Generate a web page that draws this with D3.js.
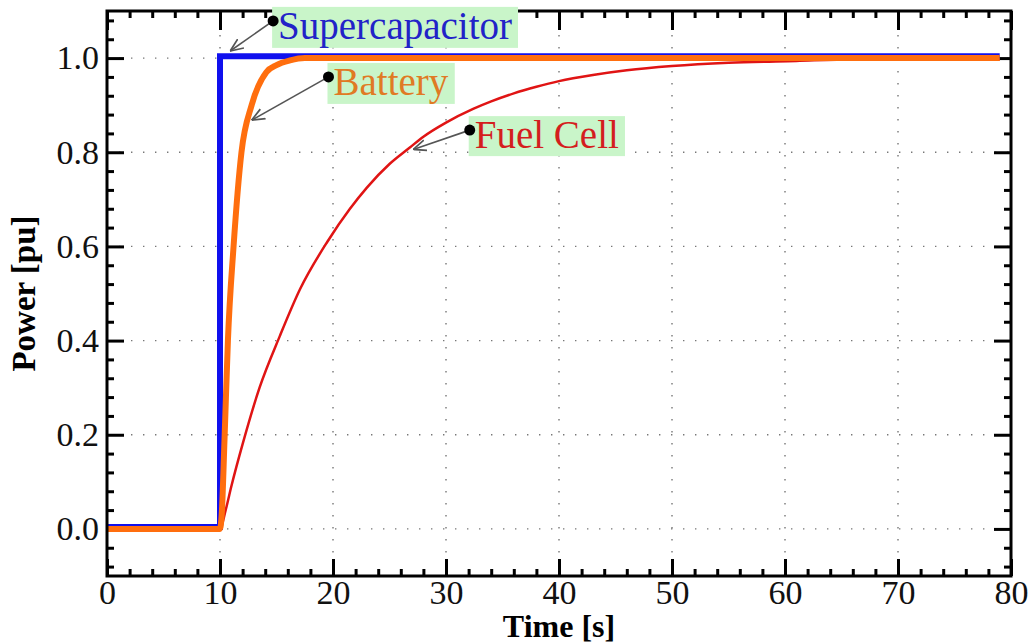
<!DOCTYPE html>
<html>
<head>
<meta charset="utf-8">
<script src="https://cdn.jsdelivr.net/npm/d3@7"></script>
<style>
  body { margin: 0; background: #fff; }
  svg { display: block; font-family: "Liberation Serif", "DejaVu Serif", serif; }
  .grid line { stroke: #777; stroke-width: 1.4; stroke-dasharray: 1.4 10.6; }
  .axis path { display: none; }
  .axis line { stroke: #000; stroke-width: 3; }
  .axis text { font-size: 34px; fill: #111; font-family: "Liberation Serif", serif; }
</style>
</head>
<body>
<svg id="chart" width="1031" height="643"></svg>
<script>
// time axis [s] and per-unit power for each source
const timeSC = [0, 10, 10, 79];
const powerSC = [0.004, 0.004, 1.004, 1.004];

const timeBat = [0, 10, 10.15, 10.4, 10.7, 11.2, 11.9, 12.8, 14.1, 15, 16.2, 17.5, 79];
const powerBat = [0, 0, 0.03, 0.19, 0.40, 0.60, 0.80, 0.90, 0.97, 0.985, 0.995, 1.0, 1.0];

const timeFC = [0, 10, 10.5, 11, 12, 13.5, 15.3, 17.1, 19.5, 21.5, 23, 25, 26.8, 28, 30, 32.4, 34, 36, 38, 40, 43, 46, 50, 55, 61, 66, 79];
const powerFC = [0, 0, 0.04, 0.09, 0.18, 0.30, 0.41, 0.51, 0.61, 0.68, 0.725, 0.775, 0.81, 0.833, 0.863, 0.892, 0.908, 0.925, 0.939, 0.951, 0.964, 0.974, 0.983, 0.99, 0.994, 0.997, 0.997];

const xTicks = [0, 10, 20, 30, 40, 50, 60, 70, 80];
const yTicks = [0, 0.2, 0.4, 0.6, 0.8, 1.0];

const labelNames = ['Supercapacitor', 'Battery', 'Fuel Cell'];
const labelDots = [[14.7, 1.079], [19.6, 0.96], [32.1, 0.847]];
const arrowTips = [[10.9, 1.015], [12.8, 0.868], [27.1, 0.806]];

const COLORS = { sc: '#1010ee', bat: '#ff6e0e', fc: '#e01414' };
const TEXT_COLORS = ['#2222c8', '#e07a24', '#d41e1e'];

const MARGIN = { top: 11, right: 20, bottom: 67, left: 107 };
const width = 1031, height = 643;
const boundedWidth = width - MARGIN.left - MARGIN.right;
const boundedHeight = height - MARGIN.top - MARGIN.bottom;

const $svg = d3.select('#chart');
const $g = $svg.append('g').attr('transform', `translate(${MARGIN.left}, ${MARGIN.top})`);

const xScale = d3.scaleLinear().domain([0, 80]).range([0, boundedWidth]);
const yScale = d3.scaleLinear().domain([-0.1, 1.1]).range([boundedHeight, 0]);

// dotted grid
const grid = $g.append('g').attr('class', 'grid');
grid.selectAll('.gx').data(xTicks.slice(1, -1)).enter().append('line')
    .attr('x1', d => xScale(d)).attr('x2', d => xScale(d))
    .attr('y1', 0).attr('y2', boundedHeight);
grid.selectAll('.gy').data(yTicks).enter().append('line')
    .attr('y1', d => yScale(d)).attr('y2', d => yScale(d))
    .attr('x1', 0).attr('x2', boundedWidth);

// ticks on all four sides, pointing inward
const xMinor = d3.range(0, 81, 2).filter(d => d % 10 !== 0);
const yMinor = d3.range(-8, 109, 4).map(d => d / 100).filter(d => Math.round(d * 100) % 20 !== 0);

$g.append('g').attr('class', 'axis')
    .attr('transform', `translate(0, ${boundedHeight})`)
    .call(d3.axisBottom(xScale).tickValues(xTicks).tickSize(-17).tickPadding(4).tickFormat(d3.format('d')));
$g.append('g').attr('class', 'axis')
    .attr('transform', `translate(0, ${boundedHeight})`)
    .call(d3.axisBottom(xScale).tickValues(xMinor).tickSize(-7).tickFormat(''));
$g.append('g').attr('class', 'axis')
    .call(d3.axisTop(xScale).tickValues(xTicks).tickSize(-19).tickFormat(''));
$g.append('g').attr('class', 'axis')
    .call(d3.axisTop(xScale).tickValues(xMinor).tickSize(-7).tickFormat(''));

$g.append('g').attr('class', 'axis')
    .call(d3.axisLeft(yScale).tickValues(yTicks).tickSize(-17).tickPadding(8).tickFormat(d3.format('.1f')));
$g.append('g').attr('class', 'axis')
    .call(d3.axisLeft(yScale).tickValues(yMinor).tickSize(-7).tickFormat(''));
$g.append('g').attr('class', 'axis')
    .attr('transform', `translate(${boundedWidth}, 0)`)
    .call(d3.axisRight(yScale).tickValues(yTicks).tickSize(-17).tickFormat(''));
$g.append('g').attr('class', 'axis')
    .attr('transform', `translate(${boundedWidth}, 0)`)
    .call(d3.axisRight(yScale).tickValues(yMinor).tickSize(-7).tickFormat(''));

// series
const series = [
    { t: timeFC, p: powerFC, color: COLORS.fc, w: 2.5, curve: d3.curveMonotoneX },
    { t: timeSC, p: powerSC, color: COLORS.sc, w: 6, curve: d3.curveLinear },
    { t: timeBat, p: powerBat, color: COLORS.bat, w: 6, curve: d3.curveMonotoneX }
];
series.forEach(s => {
    const lineGen = d3.line()
        .x(d => xScale(d[0]))
        .y(d => yScale(d[1]))
        .curve(s.curve);
    $g.append('path')
        .datum(s.t.map((t, i) => [t, s.p[i]]))
        .attr('d', lineGen)
        .attr('fill', 'none')
        .attr('stroke', s.color)
        .attr('stroke-width', s.w)
        .attr('stroke-linejoin', 'miter');
});

// frame
$g.append('rect')
    .attr('width', boundedWidth).attr('height', boundedHeight)
    .attr('fill', 'none').attr('stroke', '#000').attr('stroke-width', 3);

// annotations
$svg.append('defs').append('marker')
    .attr('id', 'arrow')
    .attr('viewBox', '0 0 12 12')
    .attr('refX', 12).attr('refY', 6)
    .attr('markerWidth', 13).attr('markerHeight', 13)
    .attr('markerUnits', 'userSpaceOnUse')
    .attr('orient', 'auto')
    .append('path')
    .attr('d', 'M0,1 L12,6 L0,11')
    .attr('fill', 'none').attr('stroke', '#555').attr('stroke-width', 1.6);

labelNames.forEach((name, i) => {
    const dx = xScale(labelDots[i][0]), dy = yScale(labelDots[i][1]);
    const ann = $g.append('g').attr('class', 'annotation');
    const box = ann.append('rect').attr('fill', '#c9f5c9');
    const txt = ann.append('text')
        .attr('x', dx + 5).attr('y', dy + 18)
        .attr('font-size', 39)
        .attr('fill', TEXT_COLORS[i])
        .text(name);
    const bb = txt.node().getBBox();
    box.attr('x', dx - 1).attr('y', bb.y + 3)
        .attr('width', bb.width + 12).attr('height', bb.height - 3);
    ann.append('line')
        .attr('x1', dx).attr('y1', dy)
        .attr('x2', xScale(arrowTips[i][0])).attr('y2', yScale(arrowTips[i][1]))
        .attr('stroke', '#555').attr('stroke-width', 1.6)
        .attr('marker-end', 'url(#arrow)');
    ann.append('circle').attr('cx', dx).attr('cy', dy).attr('r', 5.5).attr('fill', '#000');
});

// axis titles
$svg.append('text')
    .attr('transform', `translate(35, ${MARGIN.top + boundedHeight / 2}) rotate(-90)`)
    .attr('text-anchor', 'middle')
    .attr('font-size', 33).attr('font-weight', 'bold')
    .text('Power [pu]');
$svg.append('text')
    .attr('x', MARGIN.left + boundedWidth / 2).attr('y', 637)
    .attr('text-anchor', 'middle')
    .attr('font-size', 32).attr('font-weight', 'bold')
    .text('Time [s]');
</script>
</body>
</html>
